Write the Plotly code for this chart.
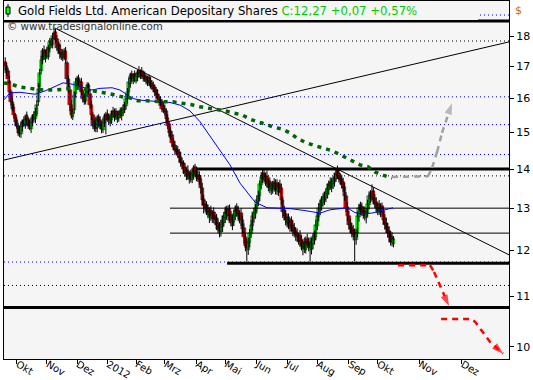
import plotly.graph_objects as go

# ---------------- data ----------------
start_idx = -8          # first trading day index (Okt 2011 first day = 0)
closes = [
    17.0, 16.8, 16.6, 16.2, 15.9, 15.7, 15.5, 15.3, 15.2, 15.0,
    14.95, 15.2, 15.3, 15.25, 15.4, 15.35, 15.2, 15.15, 15.3, 15.45,
    15.4, 15.6, 15.8, 16.3, 16.8, 17.2, 17.5, 17.3, 17.45, 17.35,
    17.6, 17.8, 17.7, 18.0, 18.1, 17.9, 17.6, 17.7, 17.4, 17.3,
    17.45, 17.5, 17.2, 16.6, 16.3, 15.8, 15.5, 15.6, 16.1, 16.5,
    16.6, 16.4, 16.5, 16.2, 16.0, 15.9, 16.2, 16.4, 16.2, 15.8,
    15.5, 15.2, 15.3, 15.1, 15.4, 15.3, 15.2, 15.1, 15.3, 15.45,
    15.5, 15.4, 15.35, 15.4, 15.55, 15.5, 15.6, 15.45, 15.5, 15.55,
    15.5, 15.65, 15.7, 15.8, 16.0, 16.2, 16.5, 16.7, 16.6, 16.7,
    16.6, 16.7, 16.8, 16.75, 16.8, 16.7, 16.65, 16.6, 16.55, 16.6,
    16.5, 16.4, 16.35, 16.3, 16.2, 16.1, 16.0, 15.9, 15.85, 15.7,
    15.65, 15.6, 15.4, 15.2, 15.0, 14.9, 14.7, 14.6, 14.5, 14.45,
    14.4, 14.3, 14.15, 14.1, 14.0, 13.9, 13.95, 13.8, 13.85, 13.75,
    13.9, 14.0, 13.9, 13.8, 13.75, 13.7, 13.5, 13.2, 13.05, 13.0,
    12.95, 12.85, 12.9, 12.8, 12.85, 12.75, 12.7, 12.6, 12.5, 12.45,
    12.6, 12.7, 12.8, 12.9, 12.85, 12.95, 12.8, 12.65, 12.7, 12.85,
    12.95, 12.9, 12.8, 12.85, 12.7, 12.5, 12.3, 12.1, 12.05, 12.2,
    12.4, 12.6, 12.8, 12.9, 13.0, 13.2, 13.3, 13.6, 13.8, 13.85,
    13.75, 13.8, 13.6, 13.65, 13.5, 13.55, 13.6, 13.5, 13.6, 13.45,
    13.55, 13.5, 13.2, 12.9, 12.8, 12.7, 12.75, 12.6, 12.65, 12.55,
    12.45, 12.4, 12.35, 12.3, 12.3, 12.2, 12.1, 12.15, 12.05, 12.2,
    12.15, 12.1, 12.05, 12.2, 12.3, 12.35, 12.6, 12.8, 13.0, 13.1,
    13.2, 13.25, 13.3, 13.4, 13.5, 13.6, 13.55, 13.65, 13.7, 13.8,
    13.9, 13.85, 13.75, 13.7, 13.6, 13.5, 13.3, 13.0, 12.8, 12.6,
    12.5, 12.4, 12.35, 12.3, 12.4, 12.8, 13.0, 12.95, 12.9, 12.85,
    12.8, 12.9, 13.1, 13.3, 13.35, 13.4, 13.2, 13.1, 13.0, 13.05,
    12.95, 13.0, 12.9, 12.7, 12.6, 12.5, 12.4, 12.3, 12.2, 12.2,
    12.27,
]
# candle body (close - open) in cents
body = [
    -15, -20, -25, -35, -30, -20, -25, -20, -15, -20,
    -15, 25, 15, -12, 20, -15, -20, -12, 20, 18,
    -12, 22, 25, 40, 45, 35, 30, -25, 20, -18,
    28, 22, -15, 30, 15, -25, -30, 15, -30, -15,
    18, 12, -30, -50, -30, -45, -30, 15, 45, 35,
    15, -22, 15, -30, -22, -15, 28, 22, -20, -35,
    -30, -30, 15, -22, 28, -15, -15, -12, 22, 18,
    15, -15, -12, 12, 18, -12, 15, -18, 12, 12,
    -12, 18, 12, 15, 22, 22, 30, 25, -15, 15,
    -15, 15, 15, -12, 12, -15, -12, -12, -10, 12,
    -15, -15, -12, -10, -15, -15, -15, -15, -10, -18,
    -12, -10, -22, -22, -25, -15, -22, -15, -15, -10,
    -12, -15, -18, -10, -15, -15, 12, -18, 12, -15,
    18, 15, -15, -15, -10, -12, -25, -30, -18, -10,
    -12, -15, 12, -15, 12, -15, -12, -15, -15, -12,
    18, 15, 15, 15, -12, 15, -18, -18, 12, 18,
    15, -12, -15, 12, -18, -22, -22, -22, -10, 18,
    22, 22, 22, 15, 15, 22, 15, 30, 22, 12,
    -15, 12, -22, 12, -18, 12, 12, -15, 15, -18,
    15, -12, -30, -30, -15, -15, 12, -18, 12, -15,
    -15, -12, -10, -10, 8, -15, -15, 12, -15, 18,
    -12, -10, -12, 18, 15, 12, 28, 22, 22, 15,
    15, 12, 10, 15, 15, 15, -12, 15, 10, 15,
    15, -12, -15, -10, -15, -15, -22, -30, -22, -22,
    -15, -15, -12, -10, 15, 40, 22, -12, -12, -10,
    -12, 15, 22, 22, 12, 12, -22, -15, -15, 12,
    -15, 12, -15, -22, -15, -15, -15, -15, -15, -10,
    12,
]
# upper / lower shadow lengths in cents
up_wick = [
    15, 12, 10, 14, 8, 12, 9, 7, 10, 8,
    9, 12, 7, 10, 8, 11, 6, 9, 12, 8,
    10, 12, 15, 18, 12, 15, 10, 14, 9, 12,
    11, 14, 9, 12, 20, 10, 15, 12, 9, 13,
    12, 10, 14, 9, 11, 13, 15, 10, 12, 14,
    10, 12, 9, 14, 8, 11, 13, 10, 9, 12,
    12, 9, 11, 14, 10, 8, 12, 9, 11, 10,
    10, 12, 8, 11, 9, 13, 10, 8, 12, 9,
    11, 9, 12, 10, 14, 12, 15, 10, 12, 9,
    12, 10, 9, 14, 11, 13, 10, 12, 9, 11,
    9, 11, 10, 12, 8, 10, 13, 9, 11, 10,
    10, 12, 9, 11, 8, 10, 12, 9, 11, 10,
    11, 9, 12, 10, 8, 11, 9, 12, 10, 8,
    12, 10, 9, 11, 10, 12, 9, 14, 10, 11,
    10, 9, 12, 11, 10, 12, 9, 11, 10, 9,
    11, 12, 10, 14, 9, 12, 11, 10, 14, 12,
    12, 10, 11, 9, 12, 10, 11, 9, 12, 10,
    10, 12, 9, 11, 10, 12, 14, 10, 12, 15,
    12, 10, 14, 11, 10, 12, 9, 11, 13, 10,
    11, 10, 12, 9, 11, 10, 12, 9, 11, 10,
    10, 12, 9, 11, 10, 12, 9, 11, 10, 12,
    11, 10, 12, 9, 10, 11, 12, 10, 13, 11,
    10, 12, 11, 9, 12, 10, 11, 12, 10, 9,
    10, 12, 11, 9, 10, 12, 11, 10, 12, 11,
    10, 9, 12, 11, 10, 12, 11, 9, 12, 10,
    12, 10, 11, 12, 10, 20, 11, 10, 12, 9,
    10, 12, 9, 11, 10, 12, 9, 11, 10, 12,
    6,
]
low_wick = [
    12, 10, 14, 9, 11, 8, 10, 12, 9, 10,
    8, 10, 12, 7, 9, 14, 10, 8, 11, 9,
    9, 11, 8, 12, 15, 10, 13, 9, 12, 10,
    10, 12, 9, 11, 8, 14, 10, 12, 15, 9,
    10, 13, 9, 15, 12, 18, 10, 9, 11, 12,
    11, 9, 14, 10, 12, 9, 10, 13, 8, 11,
    14, 10, 12, 9, 11, 13, 10, 12, 9, 11,
    40, 9, 11, 10, 12, 8, 13, 9, 10, 12,
    9, 12, 10, 8, 11, 13, 10, 12, 9, 11,
    10, 9, 12, 11, 8, 10, 13, 9, 12, 10,
    12, 10, 9, 11, 13, 9, 10, 12, 8, 11,
    9, 11, 12, 10, 14, 9, 11, 10, 12, 9,
    10, 12, 9, 11, 13, 10, 12, 9, 11, 10,
    9, 11, 10, 12, 9, 11, 14, 12, 18, 10,
    12, 10, 14, 11, 9, 12, 10, 13, 11, 15,
    10, 12, 9, 11, 14, 10, 12, 9, 11, 10,
    9, 11, 12, 10, 13, 11, 14, 12, 30, 12,
    11, 9, 12, 10, 11, 9, 10, 12, 11, 10,
    10, 12, 9, 11, 13, 10, 12, 9, 11, 12,
    10, 12, 11, 14, 10, 12, 9, 11, 10, 12,
    12, 10, 13, 11, 9, 12, 10, 14, 11, 9,
    10, 12, 30, 11, 12, 10, 9, 11, 10, 12,
    11, 9, 12, 10, 11, 12, 9, 10, 12, 11,
    9, 11, 10, 12, 11, 9, 12, 10, 11, 12,
    11, 10, 12, 55, 12, 10, 11, 12, 9, 11,
    10, 12, 9, 11, 10, 12, 11, 9, 12, 10,
    12, 10, 11, 9, 12, 10, 11, 12, 9, 11,
    8,
]

month_labels = ["Okt", "Nov", "Dez", "2012", "Feb", "Mrz", "Apr", "Mai",
                "Jun", "Jul", "Aug", "Sep", "Okt", "Nov", "Dez"]
month_pos = [0, 21, 42, 63, 83, 103, 125, 145, 167, 188, 209, 231, 251, 280, 309.5]
price_ticks = [10, 11, 12, 13, 14, 15, 16, 17, 18]

# moving averages
blue_ma_x = [-8.8, -4.7, 2.3, 12.7, 19.7, 26.6, 32.2, 38.5, 45.4, 52.4, 57.9, 66.3, 71.8,
             76.7, 80.9, 85.7, 96.2, 106.6, 113.6, 120.5, 127.5, 136.5, 148.3, 155.3,
             162.2, 165.7, 174.1, 190.1, 200.5, 207.4, 210.9, 217.9, 224.8, 229.7,
             235.3, 240.1, 247.1, 254.0, 261.7]
blue_ma_y = [15.96, 16.17, 16.19, 16.13, 16.23, 16.36, 16.48, 16.44, 16.36, 16.26, 16.31,
             16.33, 16.26, 16.12, 16.0, 15.95, 15.92, 15.88, 15.8, 15.63, 15.31, 14.79,
             14.11, 13.63, 13.3, 13.15, 13.01, 12.99, 12.94, 12.89, 12.88, 12.96, 12.98,
             13.01, 12.89, 12.86, 12.88, 12.94, 13.01]
green_ma_x = [-8.8, -4.7, 2.3, 9.2, 18.3, 25.2, 32.2, 44.0, 49.6, 55.8, 61.4, 68.4, 73.2,
              78.8, 84.3, 90.6, 97.6, 103.1, 108.7, 114.9, 121.9, 127.5, 133.0, 139.3,
              144.8, 150.4, 156.7, 162.2, 167.8, 172.7, 178.2, 184.5, 190.1, 194.9,
              200.5, 206.0, 210.9, 217.9, 222.7, 228.3, 233.2, 238.7, 244.3, 249.2,
              254.7, 261.0]
green_ma_y = [16.48, 16.45, 16.35, 16.32, 16.26, 16.26, 16.29, 16.32, 16.26, 16.2, 16.17,
              16.11, 16.05, 16.02, 15.93, 15.93, 15.9, 15.9, 15.9, 15.87, 15.81, 15.75,
              15.72, 15.66, 15.63, 15.57, 15.51, 15.39, 15.3, 15.25, 15.16, 15.1, 14.99,
              14.84, 14.73, 14.65, 14.6, 14.51, 14.43, 14.32, 14.24, 14.11, 14.06, 13.92,
              13.84, 13.76]

# projection arrows
grey_x = [261.0, 286.0, 288.8, 292.3, 295.7, 299.2, 302.7]
grey_y = [13.79, 13.81, 14.03, 14.46, 14.99, 15.45, 15.86]
red1_x = [265.2, 287.4, 290.2, 294.4, 298.5, 300.6]
red1_y = [11.67, 11.67, 11.52, 11.21, 10.93, 10.80]
red2_x = [295.1, 316.6, 319.4, 324.3, 329.1, 338.2]
red2_y = [10.54, 10.54, 10.46, 10.26, 10.09, 9.87]

# trend lines
down_x, down_y = [26.7, 342.3], [18.28, 11.90]
up_x, up_y = [-8.8, 342.3], [14.24, 17.81]

# horizontal levels
x_first, x_last = -8.83, 342.3
thick_full = [18.53, 10.77]
thick_partial = [(14.0, 124.7), (11.71, 146.3)]
thin_solid = [(13.0, 106.6), (12.40, 106.6)]
black_dotted = [17.84, 13.82, 11.23]
blue_dotted = [18.74, 16.05, 15.23, 14.39, 11.74]

# ---------------- build ----------------
idx = list(range(start_idx, start_idx + len(closes)))
opens = [c - b / 100 for c, b in zip(closes, body)]
highs = [max(o, c) + u / 100 for o, c, u in zip(opens, closes, up_wick)]
lows = [min(o, c) - w / 100 for o, c, w in zip(opens, closes, low_wick)]

fig = go.Figure()


def hline(y, x0, x1, color, width, dash="solid"):
    fig.add_trace(go.Scatter(x=[x0, x1], y=[y, y], mode="lines",
                             line=dict(color=color, width=width, dash=dash),
                             hoverinfo="skip"))


for lv in blue_dotted:
    hline(lv, x_first, x_last, "#0000FF", 1, "1px,3px")
for lv in black_dotted:
    hline(lv, x_first, x_last, "#000000", 1, "1px,3px")
for lv, x0 in thin_solid:
    hline(lv, x0, x_last, "#000000", 1)
for lv in thick_full:
    hline(lv, x_first, x_last, "#000000", 3)
for lv, x0 in thick_partial:
    hline(lv, x0, x_last, "#000000", 3)

fig.add_trace(go.Scatter(x=down_x, y=down_y, mode="lines",
                         line=dict(color="black", width=1), hoverinfo="skip"))
fig.add_trace(go.Scatter(x=up_x, y=up_y, mode="lines",
                         line=dict(color="black", width=1), hoverinfo="skip"))

# candles: wicks as one line trace, bodies as bars
wx, wy = [], []
for i, h, l in zip(idx, highs, lows):
    wx += [i, i, None]
    wy += [l, h, None]
fig.add_trace(go.Scatter(x=wx, y=wy, mode="lines",
                         line=dict(color="black", width=1), hoverinfo="skip"))
body_base = [min(o, c) for o, c in zip(opens, closes)]
body_len = [max(abs(c - o), 0.03) for o, c in zip(opens, closes)]
body_col = ["#00FF00" if c >= o else "#FF0000" for o, c in zip(opens, closes)]
fig.add_trace(go.Bar(x=idx, y=body_len, base=body_base, width=2.2,
                     marker=dict(color=body_col, line=dict(color="black", width=0.4)),
                     hoverinfo="skip"))

fig.add_trace(go.Scatter(x=blue_ma_x, y=blue_ma_y, mode="lines",
                         line=dict(color="#0000FF", width=1), hoverinfo="skip"))
fig.add_trace(go.Scatter(x=green_ma_x, y=green_ma_y, mode="lines",
                         line=dict(color="#006400", width=3.5, dash="4px,5px"),
                         hoverinfo="skip"))


def arrow(xs, ys, color):
    sizes = [0] * (len(xs) - 1) + [12]
    fig.add_trace(go.Scatter(
        x=xs, y=ys, mode="lines+markers",
        line=dict(color=color, width=2.5, dash="6px,5px"),
        marker=dict(size=sizes, color=color, symbol="arrow", angleref="previous",
                    line=dict(width=0)),
        hoverinfo="skip"))


arrow(grey_x, grey_y, "#A0A0A0")
arrow(red1_x, red1_y, "#FF0000")
arrow(red2_x, red2_y, "#FF0000")

# ---------------- decorations (pixel -> paper) ----------------
L, R, T, B = 4, 24, 1, 21
W, H = 533, 380
PW, PH = W - L - R, H - T - B


def px(x):
    return (x - L) / PW


def py(y):
    return (H - B - y) / PH


shapes = [
    dict(type="rect", xref="paper", yref="paper", x0=px(4), x1=px(478),
         y0=py(20), y1=py(1), fillcolor="#F5F5F5", line=dict(width=0), layer="above"),
    dict(type="line", xref="paper", yref="paper", x0=px(8), x1=px(8),
         y0=py(17), y1=py(4), line=dict(color="black", width=1), layer="above"),
    dict(type="rect", xref="paper", yref="paper", x0=px(6), x1=px(10),
         y0=py(14), y1=py(7), fillcolor="#00FF00", line=dict(color="black", width=1),
         layer="above"),
]

annotations = [
    dict(xref="paper", yref="paper", x=px(16), y=py(10.5), xanchor="left", yanchor="middle",
         showarrow=False,
         text="Gold Fields Ltd. American Depositary Shares "
              "<span style='color:#00CC00'>C:12,27 +0,07 +0,57%</span>",
         font=dict(family="DejaVu Sans", size=11.7, color="black")),
    dict(xref="paper", yref="paper", x=px(5), y=py(26.5), xanchor="left", yanchor="middle",
         showarrow=False, text="© www.tradesignalonline.com",
         font=dict(family="DejaVu Sans", size=10.3, color="#333333")),
    dict(xref="paper", yref="paper", x=px(513), y=py(10), xanchor="left", yanchor="middle",
         showarrow=False, text="$",
         font=dict(family="DejaVu Sans", size=11, color="#C07000")),
]

fig.update_layout(
    width=W, height=H, margin=dict(l=L, r=R, t=T, b=B),
    paper_bgcolor="white", plot_bgcolor="#F5F5F5", showlegend=False,
    shapes=shapes, annotations=annotations, bargap=0,
    xaxis=dict(range=[x_first, x_last], tickvals=month_pos, ticktext=month_labels,
               ticks="outside", ticklen=4, tickcolor="black",
               ticklabelposition="outside right", ticklabelstandoff=-5,
               automargin=False,
               showgrid=False, zeroline=False, showline=True, linecolor="black",
               mirror=True,
               tickfont=dict(family="DejaVu Sans", size=10, color="black")),
    yaxis=dict(type="log", range=[0.9899, 1.2843], side="right",
               tickvals=price_ticks, ticktext=[str(t) for t in price_ticks],
               ticks="outside", ticklen=4, tickcolor="black", automargin=False,
               showgrid=False, zeroline=False, showline=True, linecolor="black",
               mirror=True,
               tickfont=dict(family="DejaVu Sans", size=11, color="black")),
)

fig.write_html("out.html")
